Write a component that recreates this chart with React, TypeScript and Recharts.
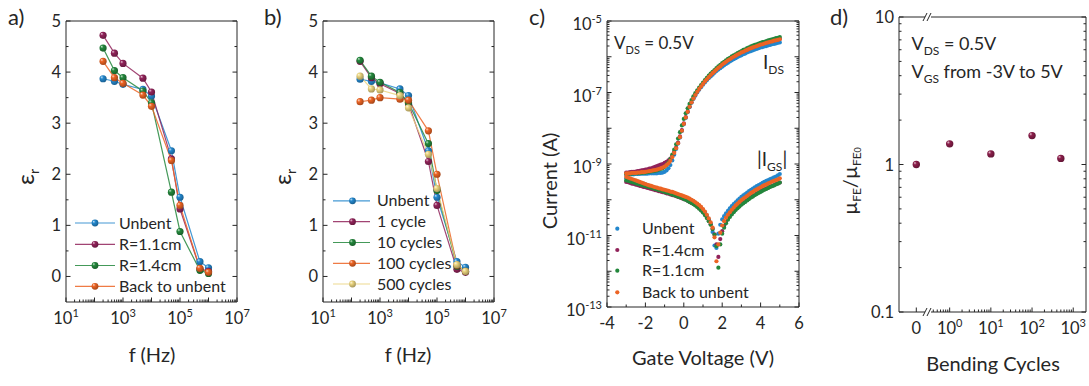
import React from 'react';
import { LineChart, Line, XAxis, YAxis, ScatterChart, Scatter } from 'recharts';

const FONT = "Lato, 'Open Sans', 'DejaVu Sans', sans-serif";
const INK = '#262626';
const H = 386;

const C_BLUE = '#2387cd';
const C_PURPLE = '#91235a';
const C_GREEN = '#23873c';
const C_ORANGE = '#ec6424';
const C_YELLOW = '#ead47e';
const C_MAROON = '#8c1e4b';

// ---------------- panels a & b : permittivity vs frequency ----------------
const freqHz = [200, 500, 1000, 5000, 10000, 50000, 100000, 500000, 1000000];
const aUnbent = [3.87, 3.82, 3.76, 3.66, 3.53, 2.46, 1.55, 0.29, 0.17];
const aR11 = [4.72, 4.37, 4.17, 3.88, 3.61, 2.30, 1.32, 0.15, 0.10];
const aR14 = [4.47, 4.03, 3.89, 3.63, 3.40, 1.65, 0.88, 0.12, 0.06];
const aBack = [4.21, 3.89, 3.78, 3.55, 3.33, 2.27, 1.39, 0.16, 0.08];

const bUnbent = [3.86, 3.82, 3.79, 3.67, 3.54, 2.46, 1.55, 0.29, 0.18];
const b1 = [4.21, 3.89, 3.77, 3.58, 3.38, 2.25, 1.39, 0.14, 0.08];
const b10 = [4.23, 3.92, 3.80, 3.60, 3.40, 2.60, 1.68, 0.20, 0.10];
const b100 = [3.42, 3.45, 3.50, 3.47, 3.45, 2.85, 2.00, 0.22, 0.10];
const b500 = [3.92, 3.67, 3.65, 3.54, 3.30, 2.39, 1.72, 0.23, 0.10];

// ---------------- panel c : transfer curves (log10 of current in A) ----------------
const gateV = [
  -3.0, -2.9, -2.8, -2.7, -2.6, -2.5, -2.4, -2.3, -2.2, -2.1,
  -2.0, -1.9, -1.8, -1.7, -1.6, -1.5, -1.4, -1.3, -1.2, -1.1,
  -1.0, -0.9, -0.8, -0.7, -0.6, -0.5, -0.4, -0.3, -0.2, -0.1,
  0.0, 0.1, 0.2, 0.3, 0.4, 0.5, 0.6, 0.7, 0.8, 0.9,
  1.0, 1.1, 1.2, 1.3, 1.4, 1.5, 1.6, 1.7, 1.8, 1.9,
  2.0, 2.1, 2.2, 2.3, 2.4, 2.5, 2.6, 2.7, 2.8, 2.9,
  3.0, 3.1, 3.2, 3.3, 3.4, 3.5, 3.6, 3.7, 3.8, 3.9,
  4.0, 4.1, 4.2, 4.3, 4.4, 4.5, 4.6, 4.7, 4.8, 4.9,
  5.0,
];
const idsUnbentLog = [
  -9.30, -9.30, -9.29, -9.29, -9.29, -9.28, -9.28, -9.28, -9.27, -9.27,
  -9.27, -9.27, -9.26, -9.26, -9.26, -9.26, -9.26, -9.25, -9.25, -9.24,
  -9.22, -9.18, -9.12, -9.03, -8.90, -8.74, -8.58, -8.43, -8.26, -8.08,
  -7.89, -7.71, -7.55, -7.41, -7.29, -7.18, -7.09, -7.00, -6.92, -6.85,
  -6.78, -6.72, -6.66, -6.60, -6.55, -6.50, -6.45, -6.40, -6.36, -6.32,
  -6.28, -6.24, -6.20, -6.17, -6.13, -6.10, -6.07, -6.04, -6.01, -5.98,
  -5.96, -5.93, -5.91, -5.88, -5.86, -5.84, -5.82, -5.80, -5.78, -5.76,
  -5.74, -5.73, -5.71, -5.70, -5.68, -5.67, -5.65, -5.64, -5.63, -5.61,
  -5.60,
];
const idsR14Log = [
  -9.24, -9.24, -9.23, -9.22, -9.22, -9.21, -9.20, -9.19, -9.18, -9.17,
  -9.16, -9.15, -9.13, -9.12, -9.10, -9.08, -9.06, -9.04, -9.02, -9.00,
  -8.97, -8.94, -8.90, -8.85, -8.77, -8.66, -8.54, -8.40, -8.23, -8.05,
  -7.86, -7.69, -7.53, -7.39, -7.27, -7.16, -7.06, -6.97, -6.89, -6.82,
  -6.75, -6.68, -6.62, -6.56, -6.50, -6.45, -6.40, -6.35, -6.30, -6.26,
  -6.21, -6.17, -6.13, -6.09, -6.06, -6.02, -5.99, -5.96, -5.93, -5.90,
  -5.87, -5.85, -5.82, -5.80, -5.77, -5.75, -5.73, -5.71, -5.69, -5.67,
  -5.65, -5.64, -5.62, -5.60, -5.59, -5.57, -5.56, -5.54, -5.53, -5.52,
  -5.50,
];
const idsR11Log = [
  -9.28, -9.28, -9.27, -9.27, -9.26, -9.26, -9.26, -9.25, -9.25, -9.24,
  -9.24, -9.23, -9.22, -9.21, -9.20, -9.19, -9.18, -9.16, -9.14, -9.12,
  -9.08, -9.03, -8.96, -8.86, -8.74, -8.60, -8.45, -8.29, -8.11, -7.92,
  -7.74, -7.58, -7.44, -7.32, -7.21, -7.11, -7.02, -6.94, -6.86, -6.79,
  -6.72, -6.65, -6.59, -6.53, -6.47, -6.42, -6.37, -6.32, -6.27, -6.23,
  -6.18, -6.14, -6.10, -6.06, -6.03, -5.99, -5.96, -5.93, -5.90, -5.87,
  -5.84, -5.81, -5.79, -5.76, -5.74, -5.71, -5.69, -5.67, -5.65, -5.63,
  -5.61, -5.59, -5.58, -5.56, -5.54, -5.53, -5.51, -5.50, -5.48, -5.47,
  -5.45,
];
const idsBackLog = [
  -9.26, -9.26, -9.26, -9.25, -9.25, -9.25, -9.24, -9.24, -9.23, -9.23,
  -9.22, -9.21, -9.20, -9.19, -9.18, -9.17, -9.16, -9.14, -9.12, -9.10,
  -9.07, -9.03, -8.98, -8.91, -8.81, -8.69, -8.56, -8.42, -8.25, -8.07,
  -7.88, -7.70, -7.54, -7.40, -7.28, -7.17, -7.07, -6.98, -6.90, -6.83,
  -6.76, -6.69, -6.63, -6.57, -6.51, -6.46, -6.41, -6.36, -6.31, -6.27,
  -6.22, -6.18, -6.14, -6.10, -6.07, -6.03, -6.00, -5.97, -5.94, -5.91,
  -5.88, -5.86, -5.83, -5.81, -5.78, -5.76, -5.74, -5.72, -5.70, -5.68,
  -5.66, -5.65, -5.63, -5.61, -5.60, -5.58, -5.57, -5.55, -5.54, -5.53,
  -5.51,
];
const igsUnbentLog = [
  -9.40, -9.42, -9.44, -9.45, -9.47, -9.49, -9.50, -9.52, -9.54, -9.55,
  -9.57, -9.59, -9.61, -9.63, -9.65, -9.66, -9.68, -9.70, -9.71, -9.73,
  -9.74, -9.76, -9.77, -9.79, -9.80, -9.82, -9.84, -9.86, -9.88, -9.90,
  -9.92, -9.94, -9.96, -9.99, -10.02, -10.05, -10.08, -10.12, -10.17, -10.22,
  -10.28, -10.35, -10.44, -10.55, -10.68, -10.90, -11.28, -11.35, -10.95, -10.70,
  -10.55, -10.46, -10.38, -10.31, -10.24, -10.18, -10.12, -10.07, -10.02, -9.97,
  -9.92, -9.88, -9.84, -9.80, -9.76, -9.72, -9.69, -9.65, -9.62, -9.59,
  -9.56, -9.53, -9.50, -9.47, -9.45, -9.42, -9.40, -9.37, -9.35, -9.32,
  -9.28,
];
const igsR14Log = [
  -9.50, -9.51, -9.53, -9.55, -9.56, -9.58, -9.59, -9.61, -9.62, -9.64,
  -9.65, -9.67, -9.68, -9.70, -9.71, -9.73, -9.74, -9.76, -9.77, -9.79,
  -9.80, -9.82, -9.83, -9.85, -9.87, -9.88, -9.90, -9.92, -9.94, -9.96,
  -9.98, -10.00, -10.03, -10.06, -10.09, -10.12, -10.15, -10.19, -10.24, -10.29,
  -10.35, -10.42, -10.50, -10.59, -10.69, -10.81, -10.97, -11.25, -11.60, -11.10,
  -10.88, -10.73, -10.62, -10.52, -10.44, -10.37, -10.31, -10.26, -10.21, -10.16,
  -10.12, -10.08, -10.04, -10.00, -9.96, -9.92, -9.89, -9.86, -9.82, -9.79,
  -9.76, -9.73, -9.71, -9.68, -9.66, -9.63, -9.61, -9.59, -9.56, -9.54,
  -9.52,
];
const igsR11Log = [
  -9.46, -9.47, -9.49, -9.51, -9.52, -9.54, -9.56, -9.57, -9.59, -9.60,
  -9.62, -9.63, -9.65, -9.66, -9.68, -9.70, -9.71, -9.73, -9.74, -9.76,
  -9.78, -9.80, -9.81, -9.83, -9.85, -9.87, -9.89, -9.91, -9.93, -9.95,
  -9.98, -10.00, -10.03, -10.06, -10.09, -10.12, -10.16, -10.20, -10.25, -10.30,
  -10.36, -10.43, -10.51, -10.60, -10.70, -10.82, -10.98, -11.30, -11.90, -11.25,
  -10.95, -10.78, -10.66, -10.56, -10.48, -10.41, -10.35, -10.29, -10.24, -10.19,
  -10.14, -10.10, -10.06, -10.02, -9.98, -9.94, -9.91, -9.87, -9.84, -9.81,
  -9.78, -9.75, -9.72, -9.70, -9.67, -9.64, -9.62, -9.60, -9.57, -9.55,
  -9.52,
];
const igsBackLog = [
  -9.36, -9.38, -9.40, -9.42, -9.44, -9.46, -9.48, -9.50, -9.52, -9.54,
  -9.56, -9.58, -9.60, -9.61, -9.63, -9.65, -9.66, -9.68, -9.69, -9.71,
  -9.72, -9.74, -9.75, -9.77, -9.78, -9.80, -9.82, -9.84, -9.86, -9.88,
  -9.90, -9.92, -9.94, -9.97, -10.00, -10.03, -10.07, -10.11, -10.15, -10.20,
  -10.26, -10.33, -10.42, -10.52, -10.63, -10.78, -11.05, -11.72, -11.25, -10.92,
  -10.72, -10.60, -10.50, -10.42, -10.35, -10.28, -10.22, -10.16, -10.11, -10.06,
  -10.01, -9.97, -9.93, -9.89, -9.85, -9.81, -9.78, -9.74, -9.71, -9.68,
  -9.65, -9.62, -9.59, -9.57, -9.54, -9.52, -9.49, -9.47, -9.45, -9.43,
  -9.40,
];

// ---------------- panel d : mobility ratio ----------------
const bendCycles = [0, 1, 10, 100, 500];
const mobilityRatio = [1.0, 1.38, 1.18, 1.57, 1.1];
const ZERO_POS = -0.81; // position of the "0" category left of the axis break (log10 units)

// ---------------- helpers ----------------
const isDecade = (v: number) => {
  const l = Math.log10(v);
  return Math.abs(l - Math.round(l)) < 1e-6;
};
const logTicks = (e0: number, e1: number) => {
  const t: number[] = [];
  for (let e = e0; e <= e1; e++) {
    for (let k = 1; k <= 9; k++) {
      if (e === e1 && k > 1) break;
      t.push(k * Math.pow(10, e));
    }
  }
  return t;
};
const pow10Label = (e: number) => [
  <tspan key="b">10</tspan>,
  <tspan key="e" dy={-7} fontSize={11}>{e < 0 ? '-' + -e : String(e)}</tspan>,
];

type Side = 'bottom' | 'top' | 'left' | 'right';
type TickOpts = {
  side: Side;
  major: (v: number) => boolean;
  label?: (v: number) => React.ReactNode;
  labelDy?: number;
};
const mkTick = (o: TickOpts) => (p: any) => {
  const { x, y, payload } = p;
  const v = payload.value;
  const M = o.major(v);
  const len = M ? 4.5 : 2.5;
  let x2 = x;
  let y2 = y;
  if (o.side === 'bottom') y2 = y - len;
  else if (o.side === 'top') y2 = y + len;
  else if (o.side === 'left') x2 = x + len;
  else x2 = x - len;
  const lab = o.label ? o.label(v) : null;
  return (
    <g>
      <line x1={x} y1={y} x2={x2} y2={y2} stroke={INK} strokeWidth={1} />
      {lab != null &&
        (o.side === 'bottom' ? (
          <text x={x} y={y + 22} textAnchor="middle" fontFamily={FONT} fontSize={16.5} fill={INK}>
            {lab}
          </text>
        ) : (
          <text x={x - 5} y={y + (o.labelDy ?? 6)} textAnchor="end" fontFamily={FONT} fontSize={16.5} fill={INK}>
            {lab}
          </text>
        ))}
    </g>
  );
};
const AXIS = { stroke: INK, strokeWidth: 1 };

const mix = (hex: string, t: number, to: number) => {
  const n = parseInt(hex.slice(1), 16);
  const ch = [(n >> 16) & 255, (n >> 8) & 255, n & 255].map((c) => Math.round(c + (to - c) * t));
  return '#' + ch.map((c) => c.toString(16).padStart(2, '0')).join('');
};
const GRADS: [string, string][] = [
  ['blue', C_BLUE],
  ['purple', C_PURPLE],
  ['green', C_GREEN],
  ['orange', C_ORANGE],
  ['yellow', C_YELLOW],
  ['maroon', C_MAROON],
];

// ---------------- panel a/b component ----------------
type Ser = { key: string; name: string; color: string; grad: string };
const F_TICKS = logTicks(1, 7);
const EPS_TICKS = [0, 0.5, 1, 1.5, 2, 2.5, 3, 3.5, 4, 4.5, 5];
const fBottom = mkTick({
  side: 'bottom',
  major: isDecade,
  label: (v) => {
    const e = Math.round(Math.log10(v));
    return isDecade(v) && e % 2 === 1 ? pow10Label(e) : null;
  },
});
const fTop = mkTick({ side: 'top', major: isDecade });
const epsLeft = mkTick({
  side: 'left',
  major: (v) => Number.isInteger(v),
  label: (v) => (Number.isInteger(v) ? String(v) : null),
  labelDy: 6,
});
const epsRight = mkTick({ side: 'right', major: (v) => Number.isInteger(v) });

function EpsPanel(props: { left: number; width: number; plotL: number; plotR: number; rows: any[]; series: Ser[] }) {
  const { left, width, plotL, plotR, rows, series } = props;
  const PT = 21;
  const PB = 302;
  return (
    <div style={{ position: 'absolute', left, top: 0, width, height: H }}>
      <LineChart
        width={width}
        height={H}
        data={rows}
        margin={{ top: PT - 1, right: width - (plotR - left) - 1, bottom: H - PB - 30, left: 0 }}
      >
        <XAxis dataKey="f" type="number" scale="log" domain={[10, 1e7]} allowDataOverflow ticks={F_TICKS}
          interval={0} height={30} tickSize={0} tickMargin={0} tickLine={false} axisLine={AXIS} tick={fBottom} />
        <XAxis xAxisId="top" orientation="top" type="number" scale="log" domain={[10, 1e7]} allowDataOverflow
          ticks={F_TICKS} interval={0} height={1} tickSize={0} tickMargin={0} tickLine={false} axisLine={AXIS} tick={fTop} />
        <YAxis type="number" domain={[-0.5, 5]} allowDataOverflow ticks={EPS_TICKS} interval={0}
          width={plotL - left} tickSize={0} tickMargin={0} tickLine={false} axisLine={AXIS} tick={epsLeft} />
        <YAxis yAxisId="right" orientation="right" type="number" domain={[-0.5, 5]} allowDataOverflow
          ticks={EPS_TICKS} interval={0} width={1} tickSize={0} tickMargin={0} tickLine={false} axisLine={AXIS} tick={epsRight} />
        {series.map((s) => (
          <Line
            key={s.key}
            type="linear"
            dataKey={s.key}
            name={s.name}
            stroke={s.color}
            strokeOpacity={0.85}
            strokeWidth={1.2}
            activeDot={false}
            isAnimationActive={false}
            dot={(p: any) => <circle key={`${s.key}-${p.index}`} cx={p.cx} cy={p.cy} r={3.6} fill={`url(#dot-${s.grad})`} />}
          />
        ))}
      </LineChart>
    </div>
  );
}

const rowsA = freqHz.map((f, i) => ({ f, unbent: aUnbent[i], r11: aR11[i], r14: aR14[i], back: aBack[i] }));
const rowsB = freqHz.map((f, i) => ({ f, unbent: bUnbent[i], c1: b1[i], c10: b10[i], c100: b100[i], c500: b500[i] }));
const serA: Ser[] = [
  { key: 'unbent', name: 'Unbent', color: C_BLUE, grad: 'blue' },
  { key: 'r11', name: 'R=1.1cm', color: C_PURPLE, grad: 'purple' },
  { key: 'r14', name: 'R=1.4cm', color: C_GREEN, grad: 'green' },
  { key: 'back', name: 'Back to unbent', color: C_ORANGE, grad: 'orange' },
];
const serB: Ser[] = [
  { key: 'unbent', name: 'Unbent', color: C_BLUE, grad: 'blue' },
  { key: 'c1', name: '1 cycle', color: C_PURPLE, grad: 'purple' },
  { key: 'c10', name: '10 cycles', color: C_GREEN, grad: 'green' },
  { key: 'c100', name: '100 cycles', color: C_ORANGE, grad: 'orange' },
  { key: 'c500', name: '500 cycles', color: C_YELLOW, grad: 'yellow' },
];

// ---------------- panel c ----------------
const toPts = (logs: number[]) => gateV.map((v, i) => ({ v, i: Math.pow(10, logs[i]) }));
const serC = [
  { name: 'Unbent', color: C_BLUE, ids: idsUnbentLog, igs: igsUnbentLog },
  { name: 'R=1.4cm', color: C_PURPLE, ids: idsR14Log, igs: igsR14Log },
  { name: 'R=1.1cm', color: C_GREEN, ids: idsR11Log, igs: igsR11Log },
  { name: 'Back to unbent', color: C_ORANGE, ids: idsBackLog, igs: igsBackLog },
];
const V_TICKS = [-4, -3, -2, -1, 0, 1, 2, 3, 4, 5, 6];
const I_TICKS = logTicks(-13, -5);
const vBottom = mkTick({
  side: 'bottom',
  major: (v) => v % 2 === 0,
  label: (v) => (v % 2 === 0 ? (v < 0 ? '-' + -v : String(v)) : null),
});
const vTop = mkTick({ side: 'top', major: (v) => v % 2 === 0 });
const iLeft = mkTick({
  side: 'left',
  major: isDecade,
  label: (v) => {
    const e = Math.round(Math.log10(v));
    return isDecade(v) && Math.abs(e) % 2 === 1 ? pow10Label(e) : null;
  },
  labelDy: 9,
});
const iRight = mkTick({ side: 'right', major: isDecade });

function CurrentPanel() {
  const left = 530;
  const width = 290;
  const plotL = 607;
  const plotR = 799;
  const PT = 21;
  const PB = 307;
  return (
    <div style={{ position: 'absolute', left, top: 0, width, height: H }}>
      <ScatterChart width={width} height={H}
        margin={{ top: PT - 1, right: width - (plotR - left) - 1, bottom: H - PB - 30, left: 0 }}>
        <XAxis dataKey="v" type="number" domain={[-4, 6]} allowDataOverflow ticks={V_TICKS} interval={0}
          height={30} tickSize={0} tickMargin={0} tickLine={false} axisLine={AXIS} tick={vBottom} />
        <XAxis xAxisId="top" orientation="top" type="number" domain={[-4, 6]} allowDataOverflow ticks={V_TICKS}
          interval={0} height={1} tickSize={0} tickMargin={0} tickLine={false} axisLine={AXIS} tick={vTop} />
        <YAxis dataKey="i" type="number" scale="log" domain={[1e-13, 1e-5]} allowDataOverflow ticks={I_TICKS}
          interval={0} width={plotL - left} tickSize={0} tickMargin={0} tickLine={false} axisLine={AXIS} tick={iLeft} />
        <YAxis yAxisId="right" orientation="right" type="number" scale="log" domain={[1e-13, 1e-5]} allowDataOverflow
          ticks={I_TICKS} interval={0} width={1} tickSize={0} tickMargin={0} tickLine={false} axisLine={AXIS} tick={iRight} />
        {serC.map((s) => [
          <Scatter key={s.name + 'gs'} name={s.name} data={toPts(s.igs)} isAnimationActive={false}
            shape={(p: any) => <circle cx={p.cx} cy={p.cy} r={2.1} fill={s.color} />} />,
          <Scatter key={s.name + 'ds'} name={s.name} data={toPts(s.ids)} isAnimationActive={false}
            shape={(p: any) => <circle cx={p.cx} cy={p.cy} r={2.1} fill={s.color} />} />,
        ])}
      </ScatterChart>
    </div>
  );
}

// ---------------- panel d ----------------
const minorPos: number[] = [];
[0.4, 0.5, 0.6, 0.7, 0.8, 0.9].forEach((k) => minorPos.push(Math.log10(k)));
for (let d = 0; d < 3; d++) for (let k = 2; k <= 9; k++) minorPos.push(Math.log10(k * Math.pow(10, d)));
const N_TICKS = [ZERO_POS, ...minorPos, 0, 1, 2, 3].sort((a, b) => a - b);
const isNMajor = (v: number) => v === ZERO_POS || Number.isInteger(v);
const nBottom = mkTick({
  side: 'bottom',
  major: isNMajor,
  label: (v) => (v === ZERO_POS ? '0' : Number.isInteger(v) ? pow10Label(v) : null),
});
const nTop = mkTick({ side: 'top', major: isNMajor });
const M_TICKS = logTicks(-1, 1);
const mLeft = mkTick({
  side: 'left',
  major: isDecade,
  label: (v) => {
    if (!isDecade(v)) return null;
    const e = Math.round(Math.log10(v));
    return e === -1 ? '0.1' : e === 0 ? '1' : '10';
  },
  labelDy: 6,
});
const mRight = mkTick({ side: 'right', major: isDecade });
const rowsD = bendCycles.map((c, i) => ({ pos: c === 0 ? ZERO_POS : Math.log10(c), ratio: mobilityRatio[i] }));

function MobilityPanel() {
  const left = 820;
  const width = 269;
  const plotL = 899;
  const plotR = 1086;
  const PT = 17;
  const PB = 312;
  return (
    <div style={{ position: 'absolute', left, top: 0, width, height: H }}>
      <ScatterChart width={width} height={H}
        margin={{ top: PT - 1, right: width - (plotR - left) - 1, bottom: H - PB - 30, left: 0 }}>
        <XAxis dataKey="pos" type="number" domain={[-1.23, 3.31]} allowDataOverflow ticks={N_TICKS} interval={0}
          height={30} tickSize={0} tickMargin={0} tickLine={false} axisLine={AXIS} tick={nBottom} />
        <XAxis xAxisId="top" orientation="top" type="number" domain={[-1.23, 3.31]} allowDataOverflow ticks={N_TICKS}
          interval={0} height={1} tickSize={0} tickMargin={0} tickLine={false} axisLine={AXIS} tick={nTop} />
        <YAxis dataKey="ratio" type="number" scale="log" domain={[0.1, 10]} allowDataOverflow ticks={M_TICKS}
          interval={0} width={plotL - left} tickSize={0} tickMargin={0} tickLine={false} axisLine={AXIS} tick={mLeft} />
        <YAxis yAxisId="right" orientation="right" type="number" scale="log" domain={[0.1, 10]} allowDataOverflow
          ticks={M_TICKS} interval={0} width={1} tickSize={0} tickMargin={0} tickLine={false} axisLine={AXIS} tick={mRight} />
        <Scatter data={rowsD} isAnimationActive={false}
          shape={(p: any) => <circle cx={p.cx} cy={p.cy} r={3.7} fill="url(#dot-maroon)" />} />
      </ScatterChart>
    </div>
  );
}

// ---------------- overlay (titles, legends, annotations) ----------------
const T = { fontFamily: FONT, fill: INK } as const;

function LineLegend(props: { x0: number; x1: number; dotX: number; textX: number; ys: number[]; series: Ser[] }) {
  const { x0, x1, dotX, textX, ys, series } = props;
  return (
    <g>
      {series.map((s, i) => (
        <g key={s.key}>
          <line x1={x0} x2={x1} y1={ys[i]} y2={ys[i]} stroke={s.color} strokeOpacity={0.85} strokeWidth={1.2} />
          <circle cx={dotX} cy={ys[i]} r={3.4} fill={`url(#dot-${s.grad})`} />
          <text x={textX} y={ys[i] + 5.6} fontSize={16} {...T}>{s.name}</text>
        </g>
      ))}
    </g>
  );
}

function BreakMark({ x, y }: { x: number; y: number }) {
  return (
    <g>
      <rect x={x - 3} y={y - 1.5} width={6} height={3} fill="#fff" />
      <line x1={x - 5} y1={y + 4} x2={x - 1} y2={y - 4} stroke={INK} strokeWidth={1} />
      <line x1={x - 1} y1={y + 4} x2={x + 3} y2={y - 4} stroke={INK} strokeWidth={1} />
    </g>
  );
}

function Overlay() {
  return (
    <svg width={1089} height={H} style={{ position: 'absolute', left: 0, top: 0, pointerEvents: 'none' }}>
      {/* panel letters */}
      <text x={8} y={25} fontSize={22} {...T}>a)</text>
      <text x={264} y={25} fontSize={22} {...T}>b)</text>
      <text x={529} y={25} fontSize={22} {...T}>c)</text>
      <text x={830} y={25} fontSize={22} {...T}>d)</text>

      {/* axis titles */}
      <text x={152} y={362} fontSize={20} textAnchor="middle" {...T}>f (Hz)</text>
      <text x={408} y={362} fontSize={20} textAnchor="middle" {...T}>f (Hz)</text>
      <text x={703} y={365} fontSize={20} textAnchor="middle" {...T}>Gate Voltage (V)</text>
      <text x={993} y={371} fontSize={20} textAnchor="middle" {...T}>Bending Cycles</text>

      <text transform="rotate(-90 34 177)" x={34} y={177} fontSize={24} textAnchor="middle" {...T}>
        ε<tspan dy={5} fontSize={14}>r</tspan>
      </text>
      <text transform="rotate(-90 291 177)" x={291} y={177} fontSize={24} textAnchor="middle" {...T}>
        ε<tspan dy={5} fontSize={14}>r</tspan>
      </text>
      <text transform="rotate(-90 557 181)" x={557} y={181} fontSize={20} textAnchor="middle" {...T}>Current (A)</text>
      <text transform="rotate(-90 857 181)" x={857} y={181} fontSize={20} textAnchor="middle" {...T}>
        µ<tspan dy={4} fontSize={12}>FE</tspan>
        <tspan dy={-4}>/µ</tspan>
        <tspan dy={4} fontSize={12}>FE</tspan>
        <tspan fontSize={9}>0</tspan>
      </text>

      {/* legends */}
      <LineLegend x0={75} x1={115} dotX={95} textX={119} ys={[223, 244.3, 265.5, 286.3]} series={serA} />
      <LineLegend x0={333} x1={370} dotX={352.5} textX={377} ys={[200.8, 221.7, 242.5, 263.3, 284]} series={serB} />
      {serC.map((s, i) => {
        const y = [228.7, 250, 270.7, 292.3][i];
        return (
          <g key={s.name}>
            <circle cx={617.3} cy={y} r={2.1} fill={s.color} />
            <text x={642} y={y + 5.6} fontSize={16} {...T}>{s.name}</text>
          </g>
        );
      })}

      {/* annotations panel c */}
      <text x={614} y={48.5} fontSize={17} {...T}>
        V<tspan dy={5} fontSize={11}>DS</tspan><tspan dy={-5}> = 0.5V</tspan>
      </text>
      <text x={763} y={69} fontSize={19} {...T}>
        I<tspan dy={5} fontSize={12}>DS</tspan>
      </text>
      <text x={757} y={166} fontSize={19} {...T}>
        |I<tspan dy={5} fontSize={12}>GS</tspan><tspan dy={-5}>|</tspan>
      </text>

      {/* annotations panel d */}
      <text x={911.5} y={50} fontSize={18} {...T}>
        V<tspan dy={5} fontSize={12}>DS</tspan><tspan dy={-5}> = 0.5V</tspan>
      </text>
      <text x={911.5} y={78} fontSize={18} {...T}>
        V<tspan dy={5} fontSize={12}>GS</tspan><tspan dy={-5}> from -3V to 5V</tspan>
      </text>

      {/* axis break marks on panel d */}
      <BreakMark x={928} y={17} />
      <BreakMark x={928} y={312} />
    </svg>
  );
}

export default function App() {
  return (
    <div style={{ position: 'absolute', left: 0, top: 0, width: 1089, height: H, background: '#fff', overflow: 'hidden' }}>
      <svg width={0} height={0} style={{ position: 'absolute' }}>
        <defs>
          {GRADS.map(([n, c]) => (
            <radialGradient key={n} id={`dot-${n}`} cx="0.4" cy="0.4" r="0.62" fx="0.3" fy="0.28">
              <stop offset="0" stopColor={mix(c, 0.75, 255)} />
              <stop offset="0.35" stopColor={c} />
              <stop offset="1" stopColor={mix(c, 0.3, 0)} />
            </radialGradient>
          ))}
        </defs>
      </svg>
      <EpsPanel left={0} width={258} plotL={66} plotR={237} rows={rowsA} series={serA} />
      <EpsPanel left={258} width={272} plotL={323} plotR={494} rows={rowsB} series={serB} />
      <CurrentPanel />
      <MobilityPanel />
      <Overlay />
    </div>
  );
}
